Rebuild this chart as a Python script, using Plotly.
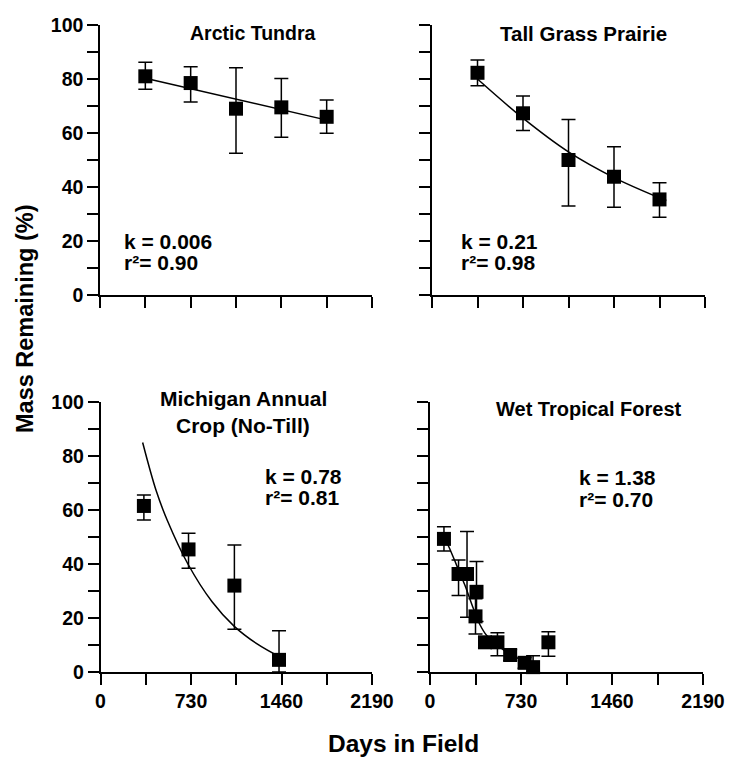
import plotly.graph_objects as go

# ---------------- data ----------------
# Arctic Tundra
days_at = [365, 730, 1095, 1460, 1825]
mass_at = [81, 78.5, 69, 69.5, 66]
err_up_at = [5.2, 6, 15.2, 10.7, 6.2]
err_dn_at = [4.8, 7, 16.5, 11.1, 6.1]
fit_days_at = [365, 1870]
fit_mass_at = [80.3, 64.3]

# Tall Grass Prairie
days_tg = [365, 730, 1095, 1460, 1825]
mass_tg = [82.3, 67.3, 50, 43.8, 35.4]
err_up_tg = [4.7, 6.4, 15, 11.1, 6.2]
err_dn_tg = [4.8, 6.4, 17, 11.3, 6.6]
fit_days_tg = [365, 730, 1095, 1460, 1825, 1880]
fit_mass_tg = [80, 65.5, 53, 43.5, 36, 35]

# Michigan Annual Crop (No-Till)
days_mi = [350, 710, 1080, 1440]
mass_mi = [61.5, 45.4, 32, 4.5]
err_up_mi = [4.1, 6, 15, 10.8]
err_dn_mi = [5.2, 7, 16.2, 4.5]
fit_days_mi = [340, 450, 540, 705, 900, 1077, 1260, 1470]
fit_mass_mi = [85, 67, 56, 40, 26, 17, 10.5, 5]

# Wet Tropical Forest
days_wt = [112, 229, 297, 365, 373, 441, 541, 643, 759, 827, 950]
mass_wt = [49.3, 36.3, 36.3, 20.6, 29.7, 11, 11, 6.3, 3.4, 1.8, 11]
err_up_wt = [4.5, 5.2, 15.7, 6.5, 11.2, 2, 3.5, 2, 2, 4.2, 3.9]
err_dn_wt = [4.5, 8, 16, 6.5, 11, 2, 5, 2, 2, 1.8, 5.2]
fit_days_wt = [112, 150, 214, 281, 348, 401, 455, 541, 643, 759, 827]
fit_mass_wt = [50, 46.5, 39.5, 32, 23.5, 17.5, 13.5, 10, 6.5, 4, 3]

panel_titles = ["Arctic Tundra", "Tall Grass Prairie",
                "Michigan Annual", "Crop (No-Till)", "Wet Tropical Forest"]
k_texts = ["k = 0.006", "k = 0.21", "k = 0.78", "k = 1.38"]
r2_texts = ["r²= 0.90", "r²= 0.98", "r²= 0.81", "r²= 0.70"]

x_tickvals = [0, 365, 730, 1095, 1460, 1825, 2190]
x_ticktext = ["0", "", "730", "", "1460", "", "2190"]
y_tickvals = [0, 10, 20, 30, 40, 50, 60, 70, 80, 90, 100]
y_ticktext = ["0", "", "20", "", "40", "", "60", "", "80", "", "100"]

# ---------------- figure ----------------
W, H = 730, 762
FONT = "Liberation Sans"
WEIGHT = "bold"


def px(x):
    return x / W


def py(y):
    return 1 - y / H


fig = go.Figure()

panels = [
    (days_at, mass_at, err_up_at, err_dn_at, fit_days_at, fit_mass_at, "x", "y"),
    (days_tg, mass_tg, err_up_tg, err_dn_tg, fit_days_tg, fit_mass_tg, "x2", "y2"),
    (days_mi, mass_mi, err_up_mi, err_dn_mi, fit_days_mi, fit_mass_mi, "x3", "y3"),
    (days_wt, mass_wt, err_up_wt, err_dn_wt, fit_days_wt, fit_mass_wt, "x4", "y4"),
]

for d, m, eu, ed, fd, fm, xa, ya in panels:
    fig.add_trace(go.Scatter(
        x=fd, y=fm, mode="lines", line=dict(color="black", width=1.5, shape="spline"),
        xaxis=xa, yaxis=ya, showlegend=False, hoverinfo="skip"))
    fig.add_trace(go.Scatter(
        x=d, y=m, mode="markers",
        marker=dict(symbol="square", size=14, color="black"),
        error_y=dict(type="data", symmetric=False, array=eu, arrayminus=ed,
                     color="black", thickness=1.5, width=7),
        cliponaxis=False, xaxis=xa, yaxis=ya, showlegend=False))

x_domains = {
    "xaxis": [px(100), px(372)],
    "xaxis2": [px(432), px(705)],
    "xaxis3": [px(100.5), px(372)],
    "xaxis4": [px(430), px(703)],
}
y_domains = {
    "yaxis": [py(295), py(25)],
    "yaxis2": [py(295), py(25)],
    "yaxis3": [py(672), py(402)],
    "yaxis4": [py(672), py(402)],
}

axis_common = dict(showline=True, linecolor="black", linewidth=1.5,
                   ticks="outside", ticklen=11, tickwidth=1.5, tickcolor="black",
                   showgrid=False, zeroline=False, mirror=False, automargin=False,
                   tickfont=dict(family=FONT, size=19.5, color="black", weight=WEIGHT))

layout_axes = {}
for i, (xk, yk) in enumerate(zip(x_domains, y_domains)):
    n = "" if i == 0 else str(i + 1)
    bottom = i >= 2
    left = i % 2 == 0
    layout_axes[xk] = dict(axis_common, domain=x_domains[xk], anchor="y" + n,
                           range=[0, 2190], tickmode="array", tickvals=x_tickvals,
                           ticktext=x_ticktext if bottom else [""] * len(x_tickvals))
    layout_axes[yk] = dict(axis_common, domain=y_domains[yk], anchor="x" + n,
                           range=[0, 100], tickmode="array", tickvals=y_tickvals,
                           ticktext=y_ticktext if left else [""] * len(y_tickvals))

fig.update_layout(**layout_axes)

# small overhang of the bottom-left x-axis line to the left of its y-axis
fig.add_shape(type="line", xref="paper", yref="paper",
              x0=px(88), x1=px(101), y0=py(672), y1=py(672),
              line=dict(color="black", width=1.5))

annotations = []


def note(text, x, y, size, xanchor="center", angle=0):
    annotations.append(dict(text=text, x=px(x), y=py(y), xref="paper", yref="paper",
                            xanchor=xanchor, yanchor="middle", showarrow=False,
                            textangle=angle,
                            font=dict(family=FONT, size=size, color="black",
                                      weight=WEIGHT)))


# panel titles
note(panel_titles[0], 252, 33, 19.5)
note(panel_titles[1], 583, 33, 20.5)
note(panel_titles[2], 243, 398, 21)
note(panel_titles[3], 243, 425, 21)
note(panel_titles[4], 589, 409, 20)

# stats
note(k_texts[0], 122, 241, 21, "left")
note(r2_texts[0], 122, 262, 21, "left")
note(k_texts[1], 459, 241, 21, "left")
note(r2_texts[1], 459, 262, 21, "left")
note(k_texts[2], 263, 476, 21, "left")
note(r2_texts[2], 263, 498, 21, "left")
note(k_texts[3], 577, 477, 21, "left")
note(r2_texts[3], 577, 499, 21, "left")

# axis titles
note("Mass Remaining (%)", 25, 319, 23.5, angle=-90)
note("Days in Field", 403, 743, 24.5)

fig.update_layout(annotations=annotations, width=W, height=H,
                  margin=dict(l=0, r=0, t=0, b=0, autoexpand=False),
                  paper_bgcolor="white", plot_bgcolor="white")

fig.write_html(
    "out.html",
    config={"displayModeBar": False},
    post_script="document.body.style.margin='0';document.body.style.overflow='hidden';",
)
